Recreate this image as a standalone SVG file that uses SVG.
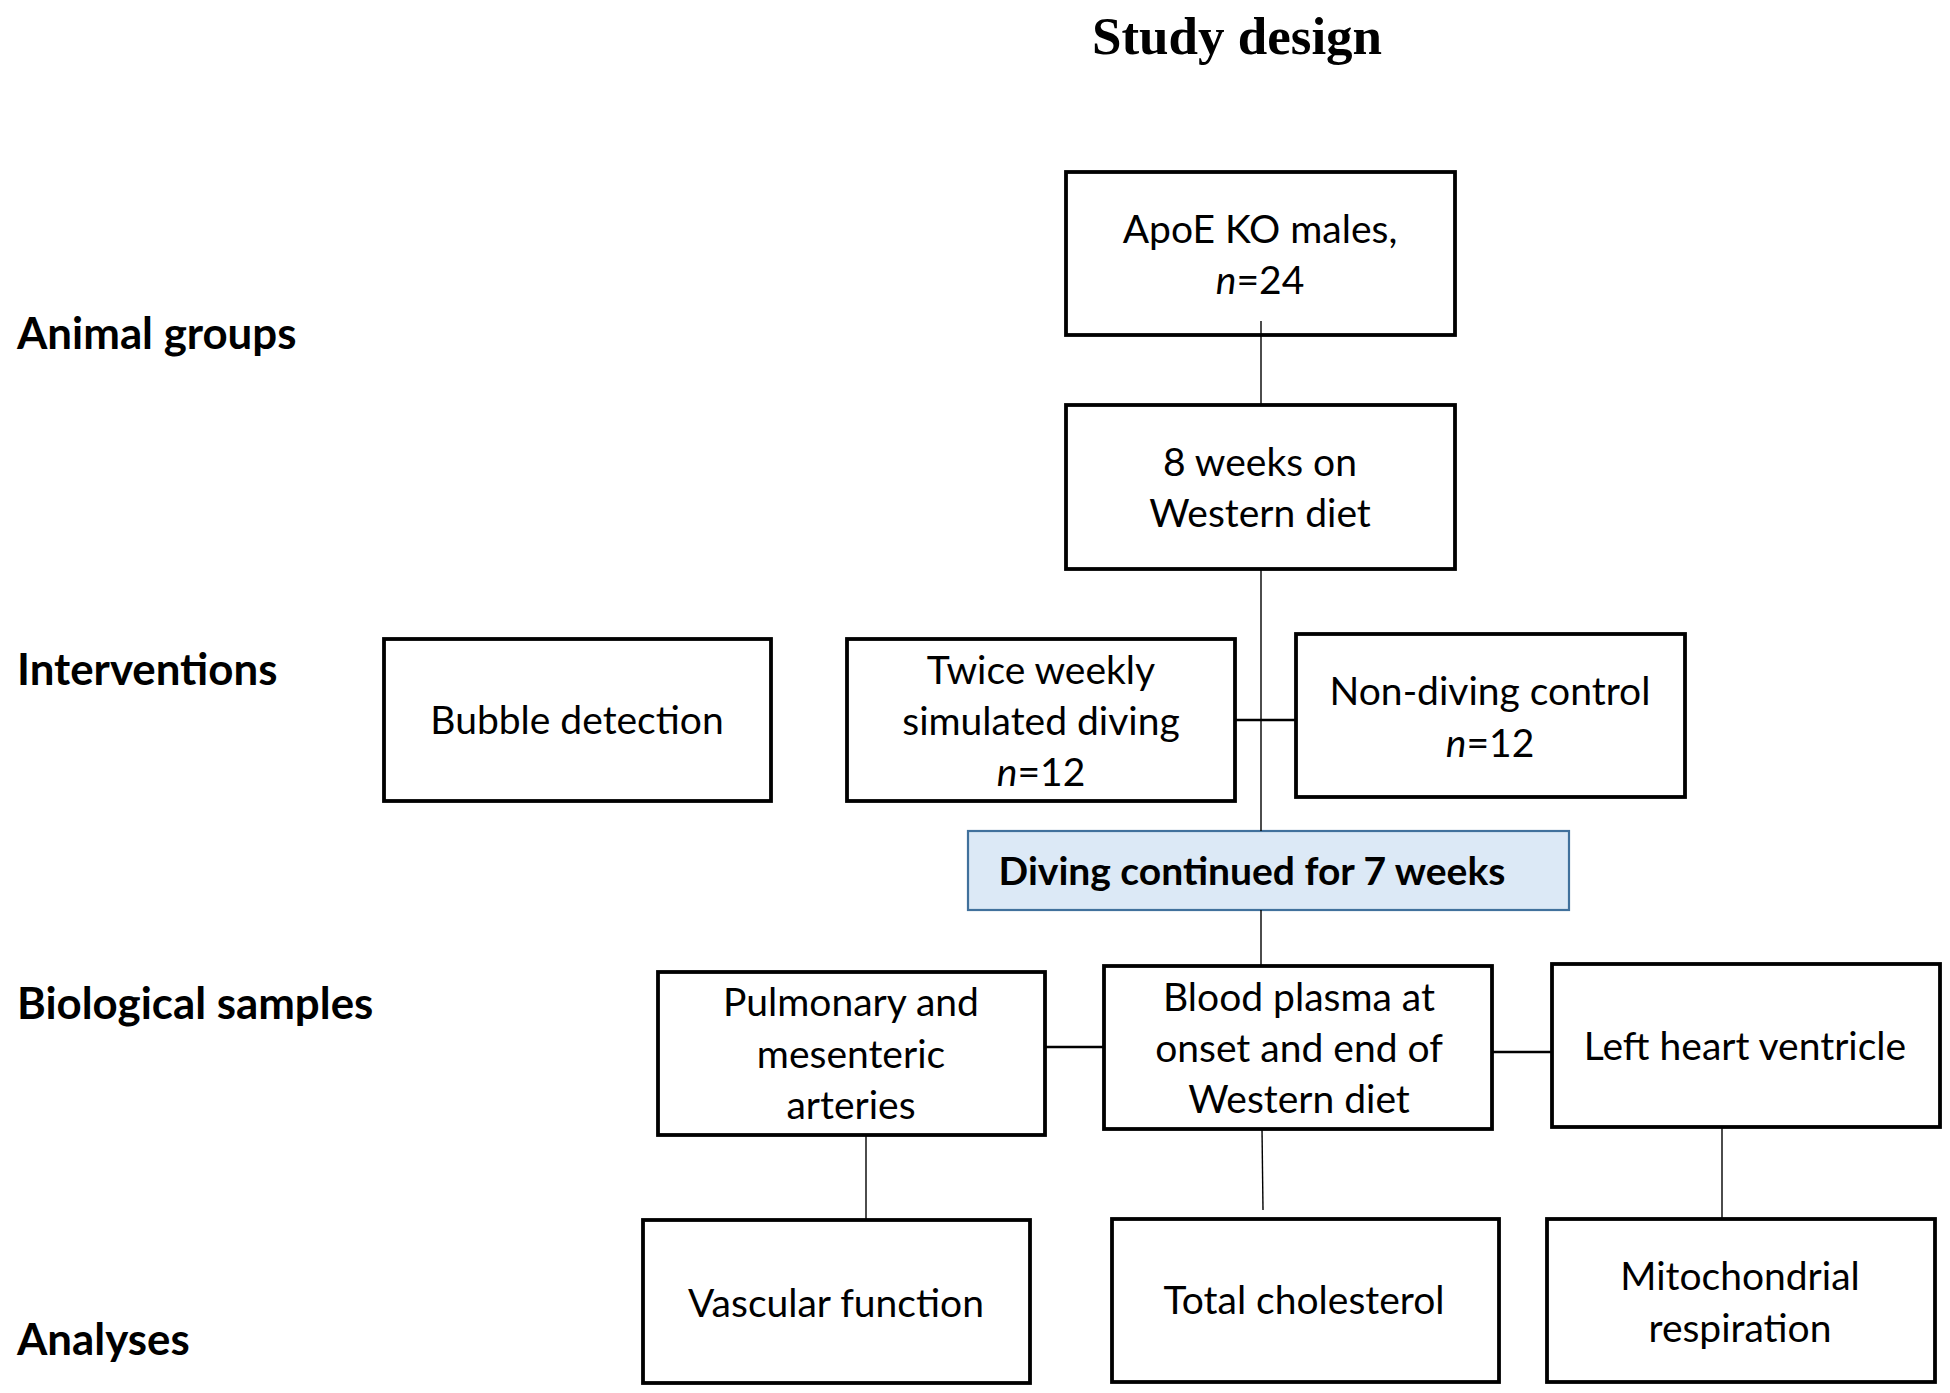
<svg xmlns="http://www.w3.org/2000/svg" width="1950" height="1393" viewBox="0 0 1950 1393">
<style>
.box{fill:#fff;stroke:#000;stroke-width:3.8}
.blue{fill:#dce9f6;stroke:#41719c;stroke-width:2.2}
.t{font-family:Lato,"Liberation Sans",sans-serif;font-size:39px;fill:#000;text-anchor:middle}
.lab{font-family:Lato,"Liberation Sans",sans-serif;font-size:43.8px;font-weight:bold;fill:#000}
.title{font-family:"Liberation Serif",serif;font-size:53px;font-weight:bold;text-anchor:middle}
.c{stroke:#000;stroke-width:1.4;fill:none}
.ct{stroke:#000;stroke-width:2.4;fill:none}
</style>
<rect width="1950" height="1393" fill="#fff"/>
<text class="title" x="1237" y="54">Study design</text>
<g id="labels">
<text class="lab" x="17" y="349">Animal groups</text>
<text class="lab" x="17" y="685">Interventions</text>
<text class="lab" x="17" y="1019">Biological samples</text>
<text class="lab" x="17" y="1355">Analyses</text>
</g>
<g id="apoe"><rect class="box" x="1066" y="172" width="389" height="163"/>
<text class="t" x="1260" y="243">ApoE KO males,</text>
<text class="t" x="1260" y="294"><tspan font-style="italic">n</tspan>=24</text></g>
<g id="diet"><rect class="box" x="1066" y="405" width="389" height="164"/>
<text class="t" x="1260" y="476">8 weeks on</text>
<text class="t" x="1260" y="527">Western diet</text></g>
<g id="bubble"><rect class="box" x="384" y="639" width="387" height="162"/>
<text class="t" x="577" y="734">Bubble detection</text></g>
<g id="diving"><rect class="box" x="847" y="639" width="388" height="162"/>
<text class="t" x="1041" y="684">Twice weekly</text>
<text class="t" x="1041" y="735">simulated diving</text>
<text class="t" x="1041" y="786"><tspan font-style="italic">n</tspan>=12</text></g>
<g id="control"><rect class="box" x="1296" y="634" width="389" height="163"/>
<text class="t" x="1490" y="705">Non-diving control</text>
<text class="t" x="1490" y="757"><tspan font-style="italic">n</tspan>=12</text></g>
<g id="continued"><rect class="blue" x="968" y="831" width="601" height="79"/>
<text class="t" x="1252" y="885" font-weight="bold" font-size="40.8">Diving continued for 7 weeks</text></g>
<g id="arteries"><rect class="box" x="658" y="972" width="387" height="163"/>
<text class="t" x="851" y="1016">Pulmonary and</text>
<text class="t" x="851" y="1068">mesenteric</text>
<text class="t" x="851" y="1119">arteries</text></g>
<g id="plasma"><rect class="box" x="1104" y="966" width="388" height="163"/>
<text class="t" x="1299" y="1011">Blood plasma at</text>
<text class="t" x="1299" y="1062">onset and end of</text>
<text class="t" x="1299" y="1113">Western diet</text></g>
<g id="ventricle"><rect class="box" x="1552" y="964" width="388" height="163"/>
<text class="t" x="1745" y="1060">Left heart ventricle</text></g>
<g id="vascular"><rect class="box" x="643" y="1220" width="387" height="163"/>
<text class="t" x="836" y="1317">Vascular function</text></g>
<g id="cholesterol"><rect class="box" x="1112" y="1219" width="387" height="163"/>
<text class="t" x="1304" y="1314">Total cholesterol</text></g>
<g id="mito"><rect class="box" x="1547" y="1219" width="388" height="163"/>
<text class="t" x="1740" y="1290">Mitochondrial</text>
<text class="t" x="1740" y="1342">respiration</text></g>
<g id="connectors">
<line class="c" x1="1261" y1="321" x2="1261" y2="405"/>
<line class="c" x1="1261" y1="569" x2="1261" y2="831"/>
<line class="ct" x1="1235" y1="720" x2="1296" y2="720"/>
<line class="c" x1="1261" y1="910" x2="1261" y2="966"/>
<line class="ct" x1="1045" y1="1047" x2="1104" y2="1047"/>
<line class="ct" x1="1492" y1="1052" x2="1552" y2="1052"/>
<line class="c" x1="866" y1="1135" x2="866" y2="1220"/>
<line class="c" x1="1262" y1="1129" x2="1263" y2="1210"/>
<line class="c" x1="1722" y1="1127" x2="1722" y2="1219"/>
</g>
</svg>
